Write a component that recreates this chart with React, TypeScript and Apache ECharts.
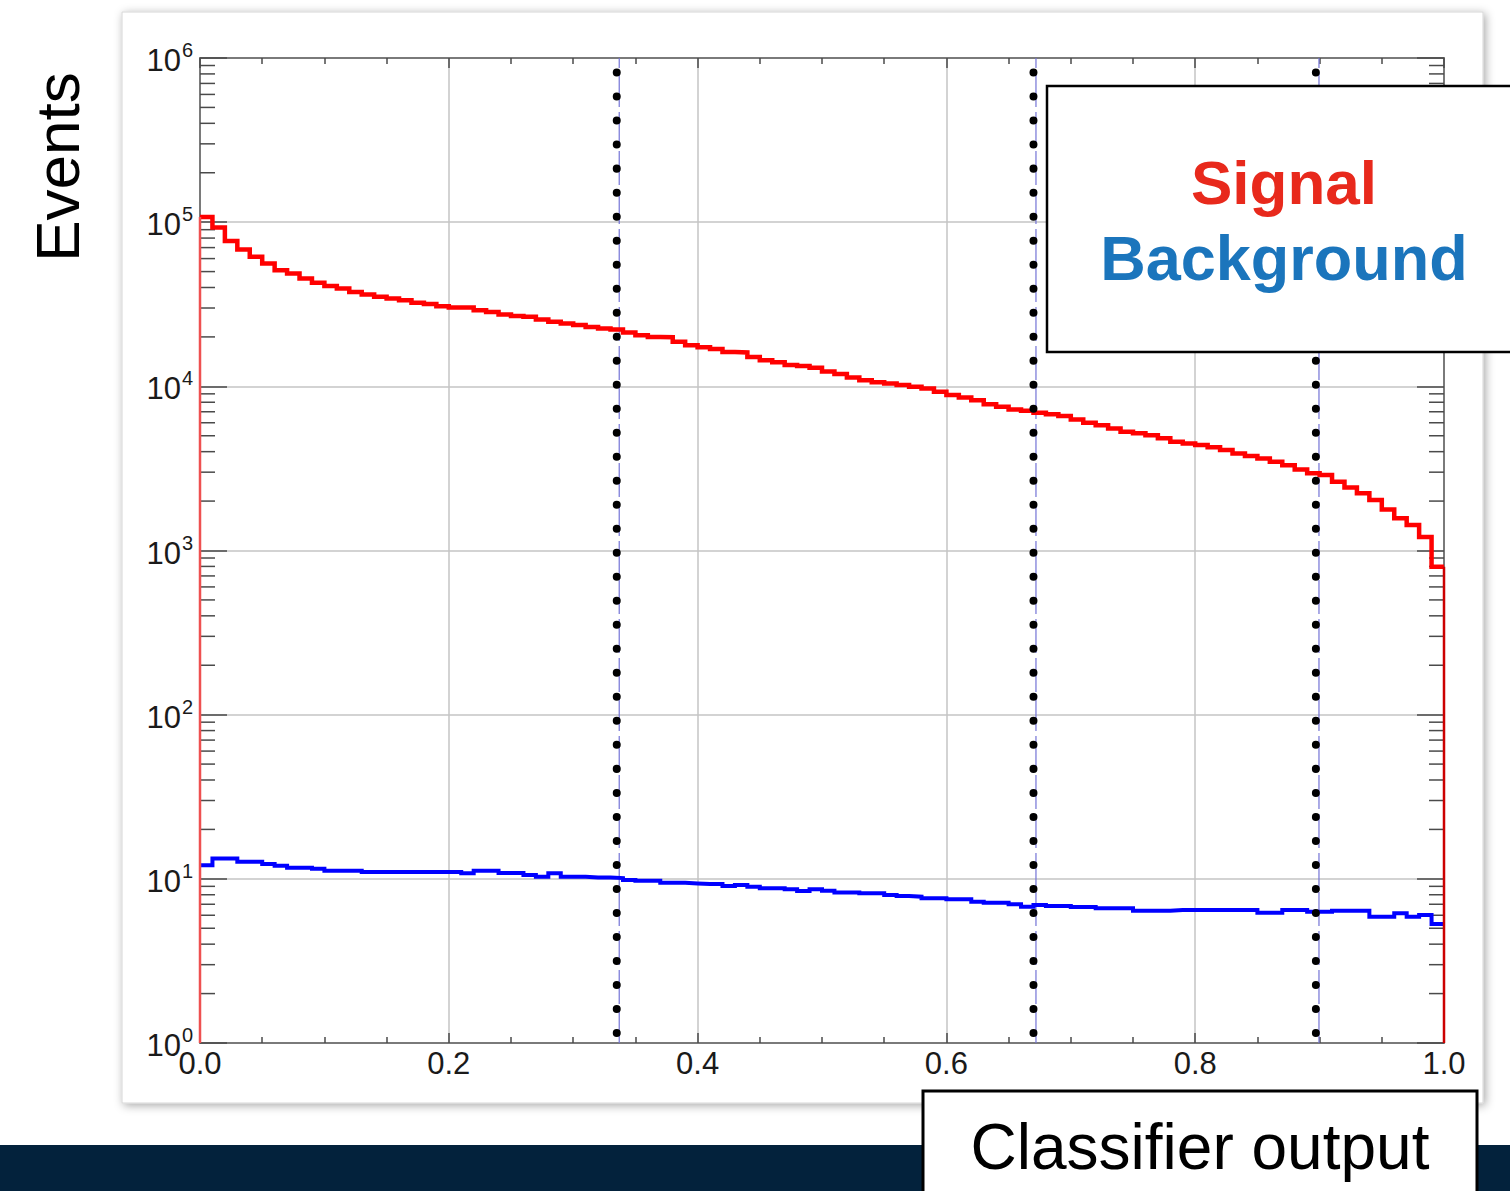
import React, { useEffect, useRef } from "react";
import * as echarts from "echarts";

// ---- data ----
const BIN_WIDTH = 0.01;
const signalCounts = [
  107700, 92900, 76900, 68200, 61500, 56000, 51000, 48700, 45400, 42700,
  40800, 39500, 37600, 36300, 35100, 34300, 33500, 32300, 31700, 30800,
  30200, 30200, 29100, 28400, 27400, 26800, 26500, 25500, 24700, 24100,
  23600, 23000, 22500, 22200, 21300, 20500, 20000, 19900, 18700, 17800,
  17300, 16900, 16200, 16100, 15100, 14400, 14000, 13500, 13300, 13000,
  12300, 11900, 11300, 10900, 10600, 10400, 10200, 9930, 9710, 9260,
  8850, 8560, 8240, 7790, 7500, 7230, 7100, 6900, 6770, 6590,
  6290, 5990, 5800, 5540, 5290, 5170, 5040, 4820, 4600, 4490,
  4390, 4250, 4090, 3900, 3760, 3640, 3470, 3310, 3120, 2950,
  2880, 2620, 2420, 2230, 2030, 1780, 1570, 1430, 1210, 796,
];
const backgroundCounts = [
  12.1, 13.3, 13.3, 12.7, 12.7, 12.3, 12.0, 11.7, 11.7, 11.5,
  11.2, 11.2, 11.2, 11.0, 11.0, 11.0, 11.0, 11.0, 11.0, 11.0,
  11.0, 10.8, 11.2, 11.2, 10.85, 10.85, 10.55, 10.3, 10.8, 10.3,
  10.3, 10.2, 10.2, 10.1, 9.84, 9.73, 9.73, 9.47, 9.47, 9.38,
  9.3, 9.3, 9.04, 9.17, 8.95, 8.75, 8.75, 8.63, 8.43, 8.63,
  8.47, 8.27, 8.27, 8.16, 8.16, 7.96, 7.85, 7.78, 7.61, 7.61,
  7.5, 7.5, 7.26, 7.16, 7.16, 7.0, 6.76, 6.93, 6.83, 6.83,
  6.73, 6.73, 6.63, 6.63, 6.63, 6.4, 6.4, 6.4, 6.46, 6.46,
  6.46, 6.46, 6.46, 6.46, 6.46, 6.22, 6.22, 6.46, 6.46, 6.3,
  6.3, 6.4, 6.4, 6.4, 5.88, 5.88, 6.17, 5.88, 6.02, 5.3,
];
const xTickValues = [0, 0.2, 0.4, 0.6, 0.8, 1.0];
const yDecadeExponents = [0, 1, 2, 3, 4, 5, 6];
const minorMultipliers = [2, 3, 4, 5, 6, 7, 8, 9];
const dottedCuts = [0.335, 0.67, 0.897];
const blueCuts = [0.337, 0.672, 0.8995];

const FONT = "'Liberation Sans', Arial, Helvetica, sans-serif";

function stepPoints(counts: number[]) {
  const pts: number[][] = [];
  counts.forEach((c, i) => {
    pts.push([+(i * BIN_WIDTH).toFixed(4), c]);
    pts.push([+((i + 1) * BIN_WIDTH).toFixed(4), c]);
  });
  return pts;
}

export default function App() {
  const ref = useRef<HTMLDivElement>(null);
  useEffect(() => {
    if (!ref.current) return;
    const chart = echarts.init(ref.current, undefined, { renderer: "svg" });
    const yMin = Math.pow(10, yDecadeExponents[0]);
    const yMax = Math.pow(10, yDecadeExponents[yDecadeExponents.length - 1]);
    const xMin = xTickValues[0];
    const xMax = xTickValues[xTickValues.length - 1];
    const minorValues: number[] = [];
    yDecadeExponents.slice(0, -1).forEach((e) => {
      minorMultipliers.forEach((m) => minorValues.push(m * Math.pow(10, e)));
    });
    const axisGray = "#7a7a7a";
    const tickColor = "#4a4a4a";

    const xAxisCommon = {
      type: "value",
      min: xMin,
      max: xMax,
      interval: 0.2,
      axisLine: { show: true, onZero: false, lineStyle: { color: axisGray, width: 2 } },
      axisTick: { show: true, inside: true, length: 10, lineStyle: { color: tickColor, width: 1.5 } },
      minorTick: { show: true, splitNumber: 4, length: 6, lineStyle: { color: tickColor, width: 1.5 } },
    };
    const yAxisCommon = {
      type: "log",
      logBase: 10,
      min: yMin,
      max: yMax,
      splitNumber: 6,
      axisLine: { show: true, onZero: false, lineStyle: { color: axisGray, width: 2 } },
      axisTick: { show: true, inside: true, length: 27, lineStyle: { color: tickColor, width: 1.5 } },
      minorTick: { show: false },
    };

    const option: any = {
      animation: false,
      backgroundColor: "transparent",
      grid: { left: 200, right: 66, top: 58, bottom: 148, containLabel: false },
      xAxis: [
        {
          ...xAxisCommon,
          position: "bottom",
          axisLabel: {
            show: true,
            showMinLabel: true,
            showMaxLabel: true,
            formatter: (v: number) => v.toFixed(1),
            fontSize: 31,
            color: "#1a1a1a",
            fontFamily: FONT,
            margin: 5,
          },
          splitLine: { show: true, lineStyle: { color: "#c4c4c4", width: 1.5 } },
        },
        {
          ...xAxisCommon,
          position: "top",
          axisLabel: { show: false },
          splitLine: { show: false },
        },
      ],
      yAxis: [
        {
          ...yAxisCommon,
          position: "left",
          axisLabel: {
            show: true,
            showMinLabel: true,
            showMaxLabel: true,
            margin: 7,
            formatter: (v: number) => `{b|10}{s|${Math.round(Math.log10(v))}}`,
            rich: {
              b: { fontSize: 31, fontFamily: FONT, color: "#1a1a1a", lineHeight: 36, verticalAlign: "bottom" },
              s: { fontSize: 20, fontFamily: FONT, color: "#1a1a1a", lineHeight: 36, verticalAlign: "top", padding: [0, 0, 0, 1] },
            },
          },
          splitLine: { show: true, lineStyle: { color: "#c4c4c4", width: 1.5 } },
        },
        {
          ...yAxisCommon,
          position: "right",
          axisLabel: { show: false },
          splitLine: { show: false },
        },
      ],
      series: [
        {
          type: "custom",
          coordinateSystem: "cartesian2d",
          xAxisIndex: 0,
          yAxisIndex: 0,
          silent: true,
          z: 3,
          data: minorValues.map((v) => [0, v]),
          renderItem: (_p: any, api: any) => {
            const v = api.value(1);
            const l = api.coord([xMin, v]);
            const r = api.coord([xMax, v]);
            return {
              type: "group",
              children: [
                { type: "line", shape: { x1: l[0], y1: l[1], x2: l[0] + 15, y2: l[1] }, style: { stroke: tickColor, lineWidth: 1.5 } },
                { type: "line", shape: { x1: r[0], y1: r[1], x2: r[0] - 15, y2: r[1] }, style: { stroke: tickColor, lineWidth: 1.5 } },
              ],
            };
          },
        },
        ...blueCuts.map((c) => ({
          type: "line",
          silent: true,
          symbol: "none",
          z: 4,
          data: [[c, yMin], [c, yMax]],
          lineStyle: { color: "#7474d6", width: 1.2, type: [34, 5] },
        })),
        {
          name: "Background",
          type: "line",
          symbol: "none",
          z: 5,
          data: stepPoints(backgroundCounts),
          lineStyle: { color: "#0000ff", width: 4, join: "miter" },
        },
        {
          name: "Signal",
          type: "line",
          symbol: "none",
          z: 6,
          data: stepPoints(signalCounts),
          lineStyle: { color: "#ff0000", width: 4.5, join: "miter" },
        },
        {
          type: "line",
          silent: true,
          symbol: "none",
          z: 6,
          data: [[xMin, yMin], [xMin, signalCounts[0]]],
          lineStyle: { color: "#ee5050", width: 2.5 },
        },
        {
          type: "line",
          silent: true,
          symbol: "none",
          z: 6,
          data: [[xMax, signalCounts[signalCounts.length - 1]], [xMax, yMin]],
          lineStyle: { color: "#cc0000", width: 2.5 },
        },
        ...dottedCuts.map((c) => ({
          type: "line",
          silent: true,
          symbol: "none",
          z: 8,
          data: [[c, yMin], [c, yMax]],
          lineStyle: { color: "#000000", width: 8, type: [0.01, 24], cap: "round", dashOffset: 14 },
        })),
      ],
      graphic: [
        {
          type: "rect",
          z: -20,
          silent: true,
          shape: { x: 0, y: 1145, width: 1510, height: 46 },
          style: { fill: "#03223c" },
        },
        {
          type: "rect",
          z: -10,
          silent: true,
          shape: { x: 122, y: 12, width: 1361, height: 1091 },
          style: {
            fill: "#ffffff",
            stroke: "#d6d6d6",
            lineWidth: 1,
            shadowBlur: 10,
            shadowColor: "rgba(0,0,0,0.35)",
            shadowOffsetX: 2,
            shadowOffsetY: 2,
          },
        },
        {
          type: "text",
          z: 50,
          x: 57,
          y: 167,
          rotation: Math.PI / 2,
          style: { text: "Events", font: `62px ${FONT}`, fill: "#000", textAlign: "center", textVerticalAlign: "middle" },
        },
        {
          type: "rect",
          z: 100,
          shape: { x: 1047, y: 86, width: 480, height: 266 },
          style: { fill: "#ffffff", stroke: "#000000", lineWidth: 2.5 },
        },
        {
          type: "text",
          z: 101,
          x: 1284,
          y: 182,
          style: { text: "Signal", font: `bold 62px ${FONT}`, fill: "#e8291c", textAlign: "center", textVerticalAlign: "middle" },
        },
        {
          type: "text",
          z: 101,
          x: 1284,
          y: 258,
          style: { text: "Background", font: `bold 63px ${FONT}`, fill: "#1b75bc", textAlign: "center", textVerticalAlign: "middle" },
        },
        {
          type: "rect",
          z: 100,
          shape: { x: 923, y: 1091, width: 554, height: 110 },
          style: { fill: "#ffffff", stroke: "#000000", lineWidth: 3 },
        },
        {
          type: "text",
          z: 101,
          x: 1200,
          y: 1147,
          style: { text: "Classifier output", font: `64px ${FONT}`, fill: "#000", textAlign: "center", textVerticalAlign: "middle" },
        },
      ],
    };
    chart.setOption(option);
    return () => chart.dispose();
  }, []);
  return (
    <div
      ref={ref}
      style={{ position: "fixed", left: 0, top: 0, width: 1510, height: 1191, background: "#ffffff" }}
    />
  );
}
